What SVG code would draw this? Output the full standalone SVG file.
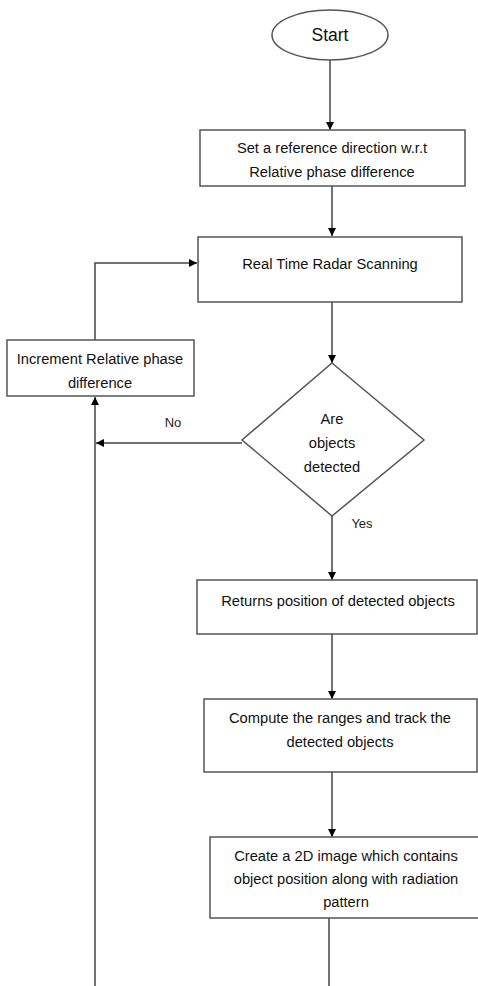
<svg xmlns="http://www.w3.org/2000/svg" width="478" height="986" viewBox="0 0 478 986">
<defs>
<marker id="ah" viewBox="0 0 10 10" refX="10" refY="5" markerWidth="8" markerHeight="8" markerUnits="userSpaceOnUse" orient="auto">
<path d="M0,0 L10,5 L0,10 z" fill="#000"/>
</marker>
<style>
.box{fill:#fff;stroke:#555;stroke-width:1.5}
.ln{fill:none;stroke:#444;stroke-width:1.5}
.t{font-family:"Liberation Sans",Arial,sans-serif;font-size:14.7px;fill:#111;text-anchor:middle}
.lb{font-family:"Liberation Sans",Arial,sans-serif;font-size:13px;fill:#222;text-anchor:middle}
</style>
</defs>
<rect width="478" height="986" fill="#fff"/>
<g id="connectors">
<line class="ln" x1="330" y1="60" x2="330" y2="130" marker-end="url(#ah)"/>
<line class="ln" x1="332" y1="186" x2="332" y2="236" marker-end="url(#ah)"/>
<line class="ln" x1="332" y1="302" x2="332" y2="363" marker-end="url(#ah)"/>
<line class="ln" x1="242" y1="443" x2="96" y2="443" marker-end="url(#ah)"/>
<line class="ln" x1="95" y1="986" x2="95" y2="397" marker-end="url(#ah)"/>
<polyline class="ln" points="95,340 95,263 197,263" marker-end="url(#ah)"/>
<line class="ln" x1="332" y1="516" x2="332" y2="580" marker-end="url(#ah)"/>
<line class="ln" x1="332" y1="634" x2="332" y2="699" marker-end="url(#ah)"/>
<line class="ln" x1="332" y1="772" x2="332" y2="837" marker-end="url(#ah)"/>
<line class="ln" x1="329" y1="918" x2="329" y2="986"/>
<text class="lb" x="173" y="427">No</text>
<text class="lb" x="362" y="528">Yes</text>
</g>
<g id="start">
<ellipse class="box" cx="330" cy="35" rx="58" ry="25"/>
<text class="t" x="330" y="41" style="font-size:17.5px">Start</text>
</g>
<g id="setref">
<rect class="box" x="200" y="130" width="265" height="56"/>
<text class="t" x="332" y="153">Set a reference direction w.r.t</text>
<text class="t" x="332" y="177">Relative phase difference</text>
</g>
<g id="scan">
<rect class="box" x="198" y="237" width="264" height="65"/>
<text class="t" x="330" y="269">Real Time Radar Scanning</text>
</g>
<g id="increment">
<rect class="box" x="7" y="340" width="187" height="56"/>
<text class="t" x="100" y="364">Increment Relative phase</text>
<text class="t" x="100" y="388">difference</text>
</g>
<g id="decision">
<polygon class="box" points="332,363 424,440 332,516 242,440"/>
<text class="t" x="332" y="424">Are</text>
<text class="t" x="332" y="448">objects</text>
<text class="t" x="332" y="472">detected</text>
</g>
<g id="returns">
<rect class="box" x="197" y="580" width="280" height="54"/>
<text class="t" x="338" y="606">Returns position of detected objects</text>
</g>
<g id="compute">
<rect class="box" x="204" y="699" width="273" height="73"/>
<text class="t" x="340" y="723">Compute the ranges and track the</text>
<text class="t" x="340" y="747">detected objects</text>
</g>
<g id="image2d">
<rect class="box" x="210" y="837" width="272" height="81"/>
<text class="t" x="346" y="861">Create a 2D image which contains</text>
<text class="t" x="346" y="884">object position along with radiation</text>
<text class="t" x="346" y="907">pattern</text>
</g>
</svg>
